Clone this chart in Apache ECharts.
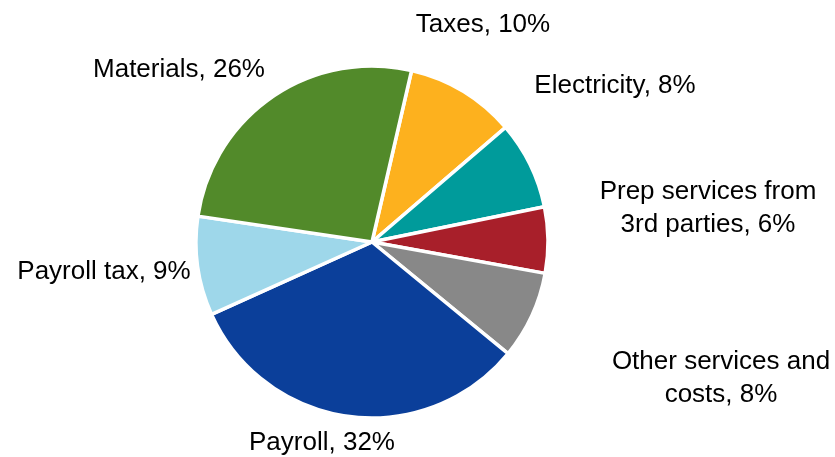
<!DOCTYPE html>
<html>
<head>
<meta charset="utf-8">
<script src="https://cdn.jsdelivr.net/npm/echarts@6/dist/echarts.min.js"></script>
<style>
html,body{margin:0;padding:0;background:#fff;}
#chart{width:835px;height:457px;}
</style>
</head>
<body>
<div id="chart"></div>
<script>
// Data (clockwise from the top)
var categories = ['Taxes', 'Electricity', 'Prep services from\n3rd parties', 'Other services and\ncosts', 'Payroll', 'Payroll tax', 'Materials'];
var shares = [10, 8, 6, 8, 32, 9, 26];
var colors = ['#FDB11E', '#009B9B', '#A81F2A', '#888888', '#0B3F9A', '#9ED7EA', '#528A2A'];

// Label anchor points (layout only)
var labelPos = [[483, 25], [615, 86], [708, 208], [721, 378], [322, 443], [104, 272], [179, 70]];

var chart = echarts.init(document.getElementById('chart'));
chart.setOption({
  animation: false,
  backgroundColor: '#ffffff',
  series: [{
    type: 'pie',
    center: [372, 242],
    radius: 176,
    startAngle: 77,
    clockwise: true,
    data: categories.map(function (c, i) {
      return { name: c, value: shares[i], itemStyle: { color: colors[i] } };
    }),
    itemStyle: { borderColor: '#ffffff', borderWidth: 3.5 },
    label: {
      show: true,
      position: 'outside',
      formatter: function (p) { return p.name + ', ' + p.value + '%'; },
      fontFamily: 'Liberation Sans, Arial, sans-serif',
      fontSize: 26,
      lineHeight: 33,
      color: '#000000',
      align: 'center',
      overflow: 'none',
      edgeDistance: 0
    },
    labelLine: { show: false },
    labelLayout: function (params) {
      var p = labelPos[params.dataIndex];
      return { x: p[0], y: p[1], align: 'center', verticalAlign: 'middle' };
    },
    emphasis: { disabled: true }
  }]
});
</script>
</body>
</html>
